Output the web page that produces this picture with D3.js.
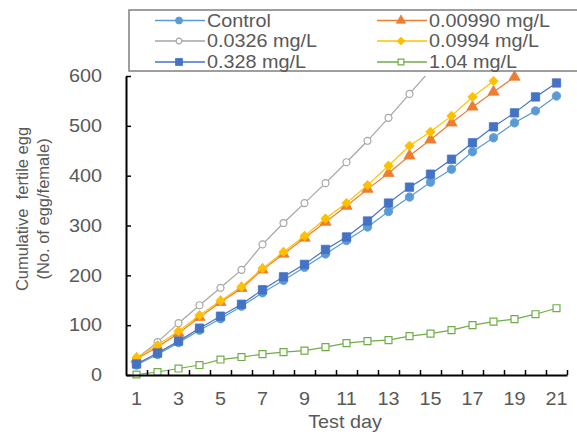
<!DOCTYPE html>
<html lang="en">
<head>
<meta charset="UTF-8">
<title>Cumulative fertile egg</title>
<script src="https://d3js.org/d3.v7.min.js"></script>
<style>
  body { margin: 0; background: #fff; }
  svg text { font-family: "Liberation Sans", Arial, sans-serif; fill: #595959; }
</style>
</head>
<body>
<div id="chart"></div>
<script>
// Data (cumulative fertile eggs per female)
const days = [1, 2, 3, 4, 5, 6, 7, 8, 9, 10, 11, 12, 13, 14, 15, 16, 17, 18, 19, 20, 21];
const xTickLabels = [1, 3, 5, 7, 9, 11, 13, 15, 17, 19, 21];
const yTicks = [0, 100, 200, 300, 400, 500, 600];
const seriesNames = ["Control", "0.00990 mg/L", "0.0326 mg/L", "0.0994 mg/L", "0.328 mg/L", "1.04 mg/L"];

const control = [20, 41, 65, 90, 113, 138, 165, 190, 216, 243, 270, 297, 328, 357, 387, 413, 448, 476, 506, 530, 560];
const conc00990 = [32, 56, 84, 116, 146, 174, 211, 243, 275, 307, 339, 373, 405, 440, 472, 506, 538, 568, 598];
const conc0326 = [33, 66, 104, 140, 175, 211, 262, 305, 345, 385, 427, 470, 516, 564, 612];
const conc0994 = [35, 60, 88, 120, 149, 177, 214, 247, 279, 314, 345, 381, 420, 460, 488, 520, 558, 590];
const conc328 = [22, 44, 68, 94, 118, 142, 171, 197, 222, 252, 277, 309, 345, 377, 403, 433, 466, 498, 526, 558, 586];
const conc104 = [1, 6, 13, 20, 31, 36, 42, 46, 49, 56, 64, 68, 70, 78, 83, 90, 100, 107, 112, 122, 134];

const seriesValues = [control, conc00990, conc0326, conc0994, conc328, conc104];

// Styles
const colors = ["#5b9bd5", "#ed7d31", "#a5a5a5", "#ffc000", "#4472c4", "#70ad47"];
const shapes = ["circle", "triangle", "circle", "diamond", "square", "square"];
const hollow = [false, false, true, false, false, true];
const markerSize = [56, 54, 38, 44, 70, 48];

const width = 577, height = 435;
const margin = { left: 126, right: 10, top: 76, bottom: 60 };
const plotRight = 567, plotBottom = 375;
const sx = 1.1; // horizontal stretch of the source image text

const svg = d3.select("#chart").append("svg")
  .attr("width", width)
  .attr("height", height);

// Scales
const x = d3.scaleLinear().domain([0.5, 21.5]).range([margin.left, plotRight]);
const y = d3.scaleLinear().domain([0, 600]).range([plotBottom, margin.top]);

function label(g, px, py, s, anchor, size) {
  return g.append("text")
    .attr("transform", "translate(" + px + "," + py + ") scale(" + sx + ",1)")
    .attr("text-anchor", anchor)
    .attr("font-size", size || 18)
    .text(s);
}

function symbolPath(shape, size) {
  if (shape == "circle") return d3.symbol(d3.symbolCircle, size)();
  if (shape == "triangle") return d3.symbol(d3.symbolTriangle, size)();
  return d3.symbol(d3.symbolSquare, size)();
}

function addMarker(g, i, cx, cy, scale) {
  g.append("path")
    .attr("d", symbolPath(shapes[i], markerSize[i] * scale))
    .attr("transform", "translate(" + cx + "," + cy + ")" + (shapes[i] == "diamond" ? " rotate(45)" : ""))
    .attr("fill", hollow[i] ? "#fff" : colors[i])
    .attr("stroke", colors[i])
    .attr("stroke-width", hollow[i] ? 1.2 : 0.8);
}

// Clip for lines
svg.append("defs").append("clipPath")
  .attr("id", "plot-clip")
  .append("rect")
  .attr("x", margin.left)
  .attr("y", margin.top)
  .attr("width", plotRight - margin.left)
  .attr("height", plotBottom - margin.top);

// Series
const line = d3.line()
  .x(function (d, i) { return x(days[i]); })
  .y(function (d) { return y(d); });

seriesValues.forEach(function (vals, i) {
  const g = svg.append("g");
  g.append("path")
    .attr("d", line(vals))
    .attr("fill", "none")
    .attr("stroke", colors[i])
    .attr("stroke-width", 1.2)
    .attr("clip-path", "url(#plot-clip)");
  vals.forEach(function (v, j) {
    if (v <= 600) addMarker(g, i, x(days[j]), y(v), 1);
  });
});

// Axes
const xAxis = d3.axisBottom(x)
  .tickValues(days.map(function (d) { return d + 0.5; }))
  .tickSizeInner(-5)
  .tickSizeOuter(0)
  .tickFormat("");
const gx = svg.append("g")
  .attr("transform", "translate(0," + plotBottom + ")")
  .call(xAxis);
gx.select(".domain").attr("stroke", "#000").attr("stroke-width", 2);
gx.selectAll(".tick line").attr("stroke", "#000").attr("stroke-width", 1.5);

const yAxis = d3.axisLeft(y)
  .tickValues(yTicks)
  .tickSizeInner(-5)
  .tickSizeOuter(0)
  .tickFormat("");
const gy = svg.append("g")
  .attr("transform", "translate(" + margin.left + ",0)")
  .call(yAxis);
gy.select(".domain").attr("stroke", "#000").attr("stroke-width", 2);
gy.selectAll(".tick line").attr("stroke", "#000").attr("stroke-width", 1.5);

// Tick labels
const labels = svg.append("g");
xTickLabels.forEach(function (d) {
  label(labels, x(d), 405, d, "middle");
});
yTicks.forEach(function (v) {
  label(labels, 102, y(v), v, "end").attr("dy", "0.35em");
});

// Axis titles
label(labels, 345, 428, "Test day", "middle");
labels.append("text")
  .attr("transform", "translate(22,209) rotate(-90)")
  .attr("text-anchor", "middle")
  .attr("dy", "0.35em")
  .attr("font-size", 16.5)
  .attr("xml:space", "preserve")
  .text("Cumulative  fertile egg");
labels.append("text")
  .attr("transform", "translate(43,209) rotate(-90)")
  .attr("text-anchor", "middle")
  .attr("dy", "0.35em")
  .attr("font-size", 16.5)
  .text("(No. of egg/female)");

// Legend
const legend = svg.append("g");
legend.append("rect")
  .attr("x", 129)
  .attr("y", 10)
  .attr("width", 480)
  .attr("height", 61)
  .attr("fill", "#fff")
  .attr("stroke", "#7f7f7f")
  .attr("stroke-width", 1.5);

const legendCols = [155, 377];
const legendRows = [20.5, 41, 62];
seriesNames.forEach(function (name, i) {
  const lx = legendCols[i % 2];
  const ly = legendRows[Math.floor(i / 2)];
  legend.append("line")
    .attr("x1", lx).attr("x2", lx + 50)
    .attr("y1", ly).attr("y2", ly)
    .attr("stroke", colors[i])
    .attr("stroke-width", 1.3);
  addMarker(legend, i, lx + 24, ly, 0.7);
  label(legend, lx + 52, ly, name, "start").attr("dy", "0.35em");
});
</script>
</body>
</html>
